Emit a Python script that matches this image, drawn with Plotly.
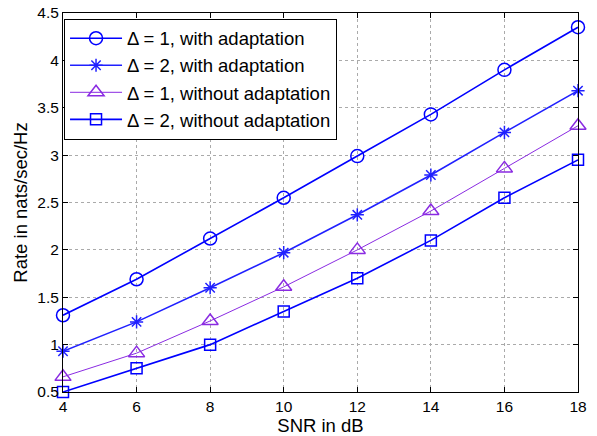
import plotly.graph_objects as go

snr = [4, 6, 8, 10, 12, 14, 16, 18]
d1_adapt = [1.31, 1.69, 2.12, 2.55, 2.99, 3.43, 3.90, 4.35]
d2_adapt = [0.93, 1.24, 1.60, 1.97, 2.37, 2.79, 3.24, 3.68]
d1_noadapt = [0.66, 0.91, 1.25, 1.61, 2.00, 2.41, 2.86, 3.31]
d2_noadapt = [0.50, 0.75, 1.00, 1.35, 1.70, 2.10, 2.55, 2.95]

names = ["Δ = 1, with adaptation", "Δ = 2, with adaptation",
         "Δ = 1, without adaptation", "Δ = 2, without adaptation"]
series = [d1_adapt, d2_adapt, d1_noadapt, d2_noadapt]
colors = ["#0000ff", "#2020ff", "#8a2be2", "#0000ff"]
symbols = ["circle-open", "asterisk-open", "triangle-up-open", "square-open"]
sizes = [13, 11, 14, 11]
widths = [1.6, 1.6, 1.0, 1.6]

fig = go.Figure()
for n, s, c, sym, sz, w in zip(names, series, colors, symbols, sizes, widths):
    fig.add_trace(go.Scatter(
        x=snr, y=s, name=n, mode="lines+markers",
        line=dict(color=c, width=w),
        marker=dict(symbol=sym, size=sz, color=c, line=dict(color=c, width=1.5)),
        cliponaxis=False,
    ))

axis_common = dict(
    showline=True, linecolor="black", linewidth=1, mirror="ticks",
    ticks="inside", ticklen=5, tickcolor="black",
    showgrid=True, gridcolor="#aaaaaa", griddash="dot", gridwidth=1,
    zeroline=False, tickfont=dict(size=15.5, color="black"),
    automargin=False,
)

fig.update_layout(
    width=597, height=436,
    margin=dict(l=63, r=19, t=13, b=44),
    paper_bgcolor="white", plot_bgcolor="white",
    font=dict(family="Liberation Sans, Arial, sans-serif", color="black"),
    xaxis=dict(range=[4, 18], tickvals=[4, 6, 8, 10, 12, 14, 16, 18],
               title=dict(text="SNR in dB", font=dict(size=18.5), standoff=0),
               **axis_common),
    yaxis=dict(range=[0.5, 4.5], tickvals=[0.5, 1, 1.5, 2, 2.5, 3, 3.5, 4, 4.5],
               ticktext=["0.5", "1", "1.5", "2", "2.5", "3", "3.5", "4", "4.5"],
               title=dict(text="Rate in nats/sec/Hz", font=dict(size=18.5), standoff=4),
               **axis_common),
    legend=dict(x=0.002, y=0.985, xanchor="left", yanchor="top",
                bgcolor="white", bordercolor="black", borderwidth=1,
                font=dict(size=18.5, color="black"), tracegroupgap=0,
                itemwidth=52),
    showlegend=True,
)

fig.write_html("out.html")
